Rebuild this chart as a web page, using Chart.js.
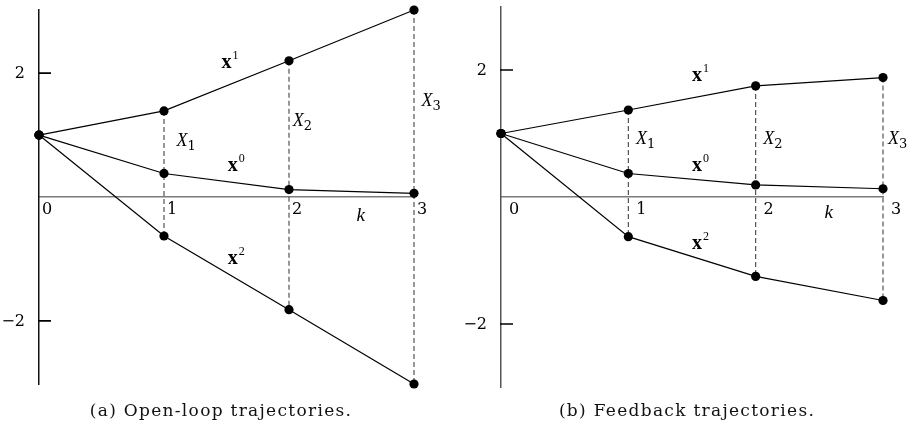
<!DOCTYPE html>
<html>
<head>
<meta charset="utf-8">
<script src="https://cdn.jsdelivr.net/npm/chart.js@4"></script>
<style>
  body { margin: 0; background: #fff; width: 913px; height: 432px; overflow: hidden; position: relative; }
  .panel { position: absolute; top: 0; height: 432px; }
  #leftBox { left: 0; width: 456px; }
  #rightBox { left: 456px; width: 457px; }
  .caption { position: absolute; top: 400px; font-family: "DejaVu Serif", serif; font-size: 17px; letter-spacing: 1.3px; color: #111; white-space: nowrap; transform: translateX(-50%); }
</style>
</head>
<body>
<div class="panel" id="leftBox"><canvas id="leftChart"></canvas></div>
<div class="panel" id="rightBox"><canvas id="rightChart"></canvas></div>
<div class="caption" style="left:221px">(a) Open-loop trajectories.</div>
<div class="caption" style="left:687px">(b) Feedback trajectories.</div>
<script>
// stages k and axis labels
const steps = [0, 1, 2, 3];
const stepLabels = ["0", "1", "2", "3"];
const yTickValues = [-2, 2];

// (a) open-loop
const openX0 = [1.0, 0.38, 0.12, 0.06];
const openX1 = [1.0, 1.39, 2.2, 3.02];
const openX2 = [1.0, -0.63, -1.82, -3.02];

// (b) feedback
const fbX0 = [1.0, 0.37, 0.19, 0.13];
const fbX1 = [1.0, 1.37, 1.75, 1.88];
const fbX2 = [1.0, -0.625, -1.25, -1.63];

const numFont = "DejaVu Serif";
const mathFont = "Liberation Serif";

function trajectory(vals){
    return {
        data: steps.map((k, i) => ({x: k, y: vals[i]})),
        showLine: true,
        borderColor: "#000",
        borderWidth: 1.2,
        pointRadius: 4.6,
        pointBackgroundColor: "#000",
        pointBorderWidth: 0,
        clip: false
    };
}

function dashed(k, top, bottom){
    return {
        data: [{x: k, y: top}, {x: k, y: bottom}],
        showLine: true,
        borderColor: "#444",
        borderWidth: 1.1,
        borderDash: [5, 3],
        pointRadius: 0,
        clip: false
    };
}

// y ticks (marks point inwards) + x^i (bold, superscript), X_k (italic, subscript), k
function makeLabelPlugin(cfg){
    return {
        id: "mathLabels",
        afterDraw(chart){
            const ctx = chart.ctx;
            const xs = chart.scales.x, ys = chart.scales.y;
            const axisX = xs.getPixelForValue(0);
            ctx.save();
            ctx.setLineDash([]);
            ctx.globalAlpha = 1;

            ctx.strokeStyle = "#000";
            ctx.lineWidth = 1.6;
            ctx.beginPath();
            yTickValues.forEach(v => {
                const py = ys.getPixelForValue(v);
                ctx.moveTo(axisX - 1, py);
                ctx.lineTo(axisX + 12, py);
            });
            ctx.stroke();

            ctx.fillStyle = "#000";
            ctx.font = "16px '" + numFont + "'";
            ctx.textAlign = "right";
            ctx.textBaseline = "middle";
            yTickValues.forEach(v => {
                const txt = v < 0 ? "\u2212" + Math.abs(v) : String(v);
                ctx.fillText(txt, axisX - 14, ys.getPixelForValue(v) + 1);
            });

            ctx.textBaseline = "alphabetic";
            ctx.textAlign = "left";
            cfg.items.forEach(it => {
                const px = xs.getPixelForValue(it.x);
                const py = ys.getPixelForValue(it.y);
                if(it.type === "vec"){
                    ctx.font = "bold 20px '" + mathFont + "'";
                    ctx.fillText(it.main, px, py + 6);
                    const w = ctx.measureText(it.main).width;
                    ctx.font = "12px '" + mathFont + "'";
                    ctx.fillText(it.idx, px + w + 1, py - 3);
                } else if(it.type === "set"){
                    ctx.font = "italic 18px '" + mathFont + "'";
                    ctx.fillText(it.main, px, py + 6);
                    const w = ctx.measureText(it.main).width;
                    ctx.font = "13px '" + numFont + "'";
                    ctx.fillText(it.idx, px + w, py + 10);
                } else {
                    ctx.font = "italic 19px '" + mathFont + "'";
                    ctx.fillText(it.main, px, py + 6);
                }
            });
            ctx.restore();
        }
    };
}

function makeChart(id, x0, x1, x2, cfg){
    const datasets = [trajectory(x1), trajectory(x0), trajectory(x2)];
    steps.forEach((k, i) => {
        if(k > 0) datasets.push(dashed(k, x1[i], x2[i]));
    });
    return new Chart(document.getElementById(id), {
        type: "scatter",
        data: { datasets: datasets },
        plugins: [makeLabelPlugin(cfg)],
        options: {
            responsive: true,
            maintainAspectRatio: false,
            animation: false,
            layout: { padding: cfg.padding },
            plugins: {
                legend: { display: false },
                tooltip: { enabled: false }
            },
            scales: {
                x: {
                    type: "linear",
                    min: 0, max: 3,
                    position: { y: 0 },
                    afterBuildTicks: s => { s.ticks = steps.map(v => ({value: v})); },
                    ticks: {
                        autoSkip: false,
                        padding: 3,
                        labelOffset: cfg.labelOffset,
                        color: "#000",
                        font: { family: numFont, size: 16 },
                        callback: (v, i) => stepLabels[i]
                    },
                    grid: { display: false, drawTicks: false },
                    border: { display: true, color: "#7a7a7a", width: 1.5 }
                },
                y: {
                    type: "linear",
                    min: cfg.yMin, max: cfg.yMax,
                    position: { x: 0 },
                    ticks: { display: false },
                    grid: { display: false },
                    border: { display: true, color: cfg.axisColor, width: 1.5 }
                }
            }
        }
    });
}

makeChart("leftChart", openX0, openX1, openX2, {
    padding: { left: 39, right: 42, top: 10, bottom: 48 },
    yMin: -3.02, yMax: 3.02,
    labelOffset: 8,
    axisColor: "#111",
    items: [
        { type: "vec", main: "x", idx: "1", x: 1.46, y: 2.18 },
        { type: "vec", main: "x", idx: "0", x: 1.51, y: 0.52 },
        { type: "vec", main: "x", idx: "2", x: 1.51, y: -0.98 },
        { type: "set", main: "X", idx: "1", x: 1.10, y: 0.92 },
        { type: "set", main: "X", idx: "2", x: 2.03, y: 1.24 },
        { type: "set", main: "X", idx: "3", x: 3.06, y: 1.56 },
        { type: "k", main: "k", x: 2.54, y: -0.29 }
    ]
});

makeChart("rightChart", fbX0, fbX1, fbX2, {
    padding: { left: 45, right: 30, top: 6.5, bottom: 44.5 },
    yMin: -3, yMax: 3,
    labelOffset: 13,
    axisColor: "#555",
    items: [
        { type: "vec", main: "x", idx: "1", x: 1.50, y: 1.92 },
        { type: "vec", main: "x", idx: "0", x: 1.50, y: 0.50 },
        { type: "vec", main: "x", idx: "2", x: 1.50, y: -0.72 },
        { type: "set", main: "X", idx: "1", x: 1.06, y: 0.93 },
        { type: "set", main: "X", idx: "2", x: 2.06, y: 0.93 },
        { type: "set", main: "X", idx: "3", x: 3.04, y: 0.93 },
        { type: "k", main: "k", x: 2.54, y: -0.24 }
    ]
});
</script>
</body>
</html>
